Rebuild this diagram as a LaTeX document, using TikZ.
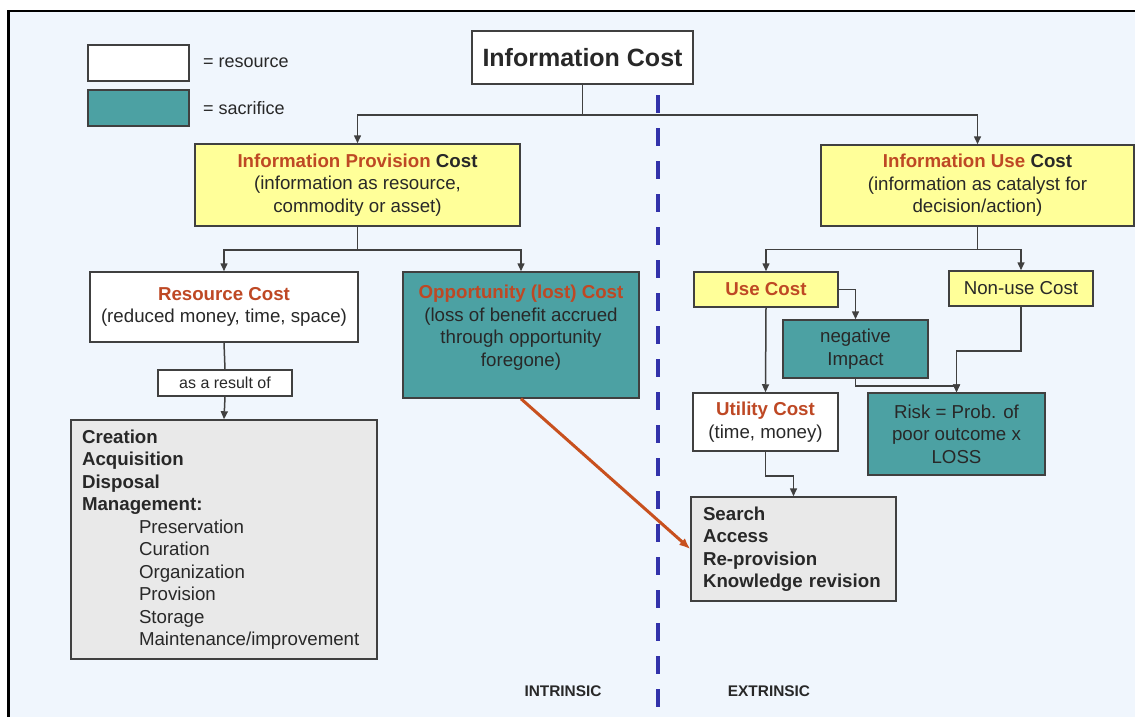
\documentclass[tikz,border=0pt]{standalone}
\usepackage{fontspec}
\setmainfont{Liberation Sans}
\usetikzlibrary{arrows.meta}
\definecolor{bg}{RGB}{240,246,253}
\definecolor{tealbox}{RGB}{76,161,163}
\definecolor{yel}{RGB}{255,255,153}
\definecolor{gry}{RGB}{233,233,233}
\definecolor{hdr}{RGB}{190,72,36}
\definecolor{edge}{RGB}{64,64,64}
\definecolor{txt}{RGB}{40,40,40}
\definecolor{redarrow}{RGB}{200,80,30}
\definecolor{dashblue}{RGB}{50,50,170}
\newcommand{\mfs}{\fontsize{18.7}{22.5}\selectfont}
\newcommand{\hd}[1]{{\color{hdr}\textbf{#1}}}
\begin{document}
\begin{tikzpicture}[x=1pt,y=-1pt,
  box/.style={draw=edge, line width=1.5pt, inner sep=0pt, align=center, font=\mfs, text=txt},
  conn/.style={draw=edge, line width=1.5pt, -{Triangle[length=8pt,width=7pt]}},
  plainline/.style={draw=edge, line width=1.5pt},
  lbl/.style={inner sep=0pt, text=txt}]
\useasboundingbox (0,0) rectangle (1135,717);
\fill[white] (0,0) rectangle (1135,717);
\fill[bg] (8.5,11) rectangle (1135,717);
\draw[line width=2.5pt, black] (8.5,717) -- (8.5,11) -- (1135,11);

% legend
\node[box, fill=white, minimum width=101pt, minimum height=36pt] (legw) at (138.5,63) {};
\node[box, fill=tealbox, minimum width=101pt, minimum height=36pt] (legt) at (138.5,108) {};
\node[lbl, anchor=west, font=\fontsize{18}{21}\selectfont] (legwt) at (203,63) {= resource};
\node[lbl, anchor=west, font=\fontsize{18}{21}\selectfont] (legtt) at (203,108) {= sacrifice};

% dashed divider
\coordinate (dtop) at (658,95);
\coordinate (dbot) at (658,717);
\draw[dashblue, line width=4pt, dash pattern=on 18pt off 15pt] (dtop) -- (dbot);

% nodes
\node[box, fill=white, minimum width=221pt, minimum height=53pt, font=\fontsize{25}{30}\selectfont\bfseries] (ic) at (582.5,57.5) {Information Cost};
\node[box, fill=yel, minimum width=325pt, minimum height=82pt] (ipc) at (357.5,185) {\hd{Information Provision} \textbf{Cost}\\(information as resource,\\commodity or asset)};
\node[box, fill=yel, minimum width=313pt, minimum height=81pt] (iuc) at (977.5,185.5) {\hd{Information Use} \textbf{Cost}\\(information as catalyst for\\decision/action)};
\node[box, fill=white, minimum width=268pt, minimum height=70pt] (rc) at (224,307) {\hd{Resource Cost}\\(reduced money, time, space)};
\node[box, fill=tealbox, minimum width=236pt, minimum height=126pt] (opp) at (521,335) {\hd{Opportunity (lost) Cost}\\(loss of benefit accrued\\through opportunity\\foregone)\\[-4pt]\mbox{}};
\node[box, fill=white, minimum width=134pt, minimum height=26pt, font=\fontsize{16}{19}\selectfont] (aro) at (225,383) {as a result of};
\node[box, fill=gry, minimum width=306pt, minimum height=239pt, text width=284pt, align=left] (cre) at (224,539.5) {\textbf{Creation}\\\textbf{Acquisition}\\\textbf{Disposal}\\\textbf{Management:}\\\hspace*{57pt}Preservation\\\hspace*{57pt}Curation\\\hspace*{57pt}Organization\\\hspace*{57pt}Provision\\\hspace*{57pt}Storage\\\hspace*{57pt}Maintenance/improvement};
\node[box, fill=yel, minimum width=144pt, minimum height=35pt] (uc) at (766,289.5) {\hd{Use Cost}};
\node[box, fill=yel, minimum width=144pt, minimum height=35pt] (nuc) at (1021,288.5) {Non-use Cost};
\node[box, fill=tealbox, minimum width=145pt, minimum height=58pt] (neg) at (855.5,349) {negative\\Impact};
\node[box, fill=white, minimum width=145pt, minimum height=58pt] (util) at (765.5,422) {\hd{Utility Cost}\\(time, money)};
\node[box, fill=tealbox, minimum width=177pt, minimum height=82pt] (risk) at (956.5,434) {Risk = Prob. of\\poor outcome x\\LOSS};
\node[box, fill=gry, minimum width=205pt, minimum height=104pt, text width=181pt, align=left] (srch) at (793.5,549) {\textbf{Search}\\\textbf{Access}\\\textbf{Re-provision}\\\textbf{Knowledge revision}};

\node[lbl, font=\fontsize{15.4}{18}\selectfont\bfseries] (intr) at (563,691) {INTRINSIC};
\node[lbl, font=\fontsize{15.4}{18}\selectfont\bfseries] (extr) at (769,691) {EXTRINSIC};

% connectors
\draw[conn] (ic.south) -- ++(0,30) -| (ipc.north);
\draw[conn] (ic.south) -- ++(0,30) -| (iuc.north);
\draw[conn] (ipc.south) -- ++(0,23) -| (rc.north);
\draw[conn] (ipc.south) -- ++(0,23) -| (opp.north);
\draw[conn] (iuc.south) -- ++(0,22.5) -| (uc.north);
\draw[conn] (iuc.south) -- ++(0,22.5) -| (nuc.north);
\draw[plainline] (rc.south) -- (aro.north);
\draw[conn] (aro.south) -- (cre.north);
\draw[conn] (uc.east) -| (neg.north);
\draw[conn] (uc.south) -- (util.north);
\draw[conn] (neg.south) -- ++(0,7) -| (risk.north);
\draw[conn] (nuc.south) -- ++(0,44) -| (risk.north);
\draw[conn] (util.south) -- ++(0,24) -| (srch.north);
\draw[redarrow, line width=3pt, -{Latex[length=11pt,width=9pt]}] (opp.south) -- (srch.west);
\end{tikzpicture}
\end{document}
